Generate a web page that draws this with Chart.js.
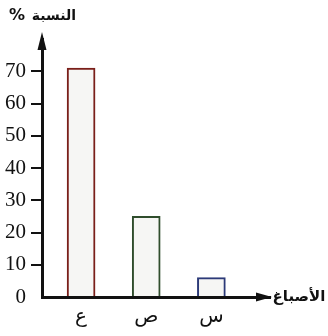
<!DOCTYPE html>
<html lang="ar">
<head>
<meta charset="utf-8">
<script src="https://cdn.jsdelivr.net/npm/chart.js@4"></script>
<style>
  html, body { margin: 0; padding: 0; background: #fff; }
  #wrap { width: 328px; height: 336px; }
</style>
</head>
<body>
<div id="wrap"><canvas id="pigmentChart" width="328" height="336"></canvas></div>
<script>
// الأصباغ ونسبها
const categories = ['ع', 'ص', 'س'];
const percentValues = [71, 25, 6];
const yTicks = [0, 10, 20, 30, 40, 50, 60, 70];
const barBorders = ['#7a1f1a', '#2f4d2c', '#2c3a78'];

const yTitle = 'النسبة';
const xTitle = 'الأصباغ';

// arrows + axis titles
const axisArrows = {
    id: 'axisArrows',
    afterDraw(chart) {
        const ctx = chart.ctx;
        const area = chart.chartArea;
        ctx.save();
        ctx.fillStyle = '#111';
        // y arrow
        ctx.beginPath();
        ctx.moveTo(area.left, area.top - 7);
        ctx.lineTo(area.left - 4.5, area.top + 11);
        ctx.lineTo(area.left + 4.5, area.top + 11);
        ctx.closePath();
        ctx.fill();
        // x arrow
        ctx.beginPath();
        ctx.moveTo(area.right + 2, area.bottom);
        ctx.lineTo(area.right - 14, area.bottom - 4.5);
        ctx.lineTo(area.right - 14, area.bottom + 4.5);
        ctx.closePath();
        ctx.fill();

        ctx.textBaseline = 'middle';
        ctx.font = 'bold 14px "DejaVu Sans"';
        ctx.textAlign = 'right';
        ctx.fillText(yTitle, 76, 16);
        ctx.font = 'bold 16px "DejaVu Sans"';
        ctx.textAlign = 'left';
        ctx.fillText('%', 9, 16);
        ctx.textAlign = 'center';
        ctx.font = 'bold 15px "DejaVu Sans"';
        ctx.fillText(xTitle, 299, area.bottom);
        ctx.restore();
    }
};

new Chart(document.getElementById('pigmentChart'), {
    type: 'bar',
    data: {
        datasets: [{
            data: categories.map((c, i) => ({ x: i + 1, y: percentValues[i] })),
            backgroundColor: '#f6f6f4',
            borderColor: barBorders,
            borderWidth: 2,
            barThickness: 28
        }]
    },
    options: {
        responsive: false,
        animation: false,
        layout: {
            padding: { top: 39, right: 58, left: 0, bottom: 0 }
        },
        scales: {
            x: {
                type: 'linear',
                offset: false,
                min: 0.4,
                max: 3.9,
                afterBuildTicks: function(scale) {
                    scale.ticks = categories.map((c, i) => ({ value: i + 1 }));
                },
                afterFit: function(scale) {
                    scale.height = 39;
                },
                ticks: {
                    callback: function(v) {
                        return categories[v - 1];
                    },
                    color: '#111',
                    padding: 8,
                    font: { family: 'DejaVu Sans', size: 20 }
                },
                grid: { drawOnChartArea: false, drawTicks: false },
                border: { color: '#111', width: 3 }
            },
            y: {
                min: 0,
                max: 80,
                afterBuildTicks: function(scale) {
                    scale.ticks = yTicks.map(v => ({ value: v }));
                },
                afterFit: function(scale) {
                    scale.width = 42;
                },
                ticks: {
                    color: '#111',
                    padding: 5,
                    font: { family: 'Liberation Serif', size: 21 }
                },
                grid: {
                    drawOnChartArea: false,
                    tickLength: 11,
                    lineWidth: 2,
                    color: function(ctx) {
                        return ctx.tick && ctx.tick.value === 0 ? 'rgba(0,0,0,0)' : '#111';
                    }
                },
                border: { color: '#111', width: 3 }
            }
        },
        plugins: {
            legend: { display: false },
            tooltip: { enabled: false }
        }
    },
    plugins: [axisArrows]
});
</script>
</body>
</html>
